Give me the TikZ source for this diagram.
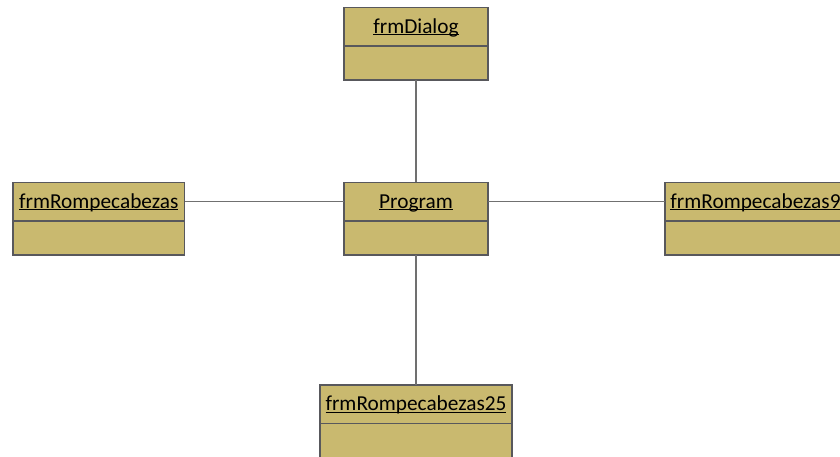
\documentclass[tikz,border=0pt]{standalone}
\usepackage{fontspec}
\setmainfont{Carlito}
\definecolor{classfill}{RGB}{201,185,111}
\definecolor{classline}{RGB}{88,88,92}
\definecolor{linkline}{RGB}{112,112,112}
% underline that runs through the descenders, as in UML object names
\newsavebox\ulbox
\newcommand{\uname}[1]{\sbox\ulbox{#1}\rlap{\rule[-2.2pt]{\wd\ulbox}{1.1pt}}\usebox\ulbox}
\tikzset{
  classhead/.style={draw=classline, fill=classfill, line width=1.4pt,
    minimum height=38.5pt, inner sep=0pt, outer sep=0pt, text height=18pt, text depth=5pt,
    anchor=north west, font=\fontsize{21.3}{25}\selectfont},
  classbody/.style={draw=classline, fill=classfill, line width=1.4pt,
    minimum height=34pt, inner sep=0pt, outer sep=0pt, anchor=north west},
  link/.style={draw=linkline, line width=1.4pt}
}
\begin{document}
\begin{tikzpicture}[x=1pt, y=-1pt]
  \useasboundingbox (0,0) rectangle (840,457);
  \clip (0,0) rectangle (840,457);

  % class boxes: name compartment on top, empty compartment below
  \node[classhead, minimum width=144pt]   (dlg)  at (344,7.5)   {\uname{frmDialog}};
  \node[classbody, minimum width=144pt]   (dlgB) at (dlg.south west) {};

  \node[classhead, minimum width=171.5pt] (rp)   at (13,182.5)  {\uname{frmRompecabezas}};
  \node[classbody, minimum width=171.5pt] (rpB)  at (rp.south west) {};

  \node[classhead, minimum width=144pt]   (prog) at (344,182.5) {\uname{Program}};
  \node[classbody, minimum width=144pt]   (progB) at (prog.south west) {};

  \node[classhead, minimum width=181pt]   (rp9)  at (665,182.5) {\uname{frmRompecabezas9}};
  \node[classbody, minimum width=181pt]   (rp9B) at (rp9.south west) {};

  \node[classhead, minimum width=192pt]   (rp25) at (320,385)   {\uname{frmRompecabezas25}};
  \node[classbody, minimum width=192pt, minimum height=40pt] (rp25B) at (rp25.south west) {};

  % associations
  \draw[link] (dlgB.south) -- (prog.north);
  \draw[link] (rp.east) -- (prog.west);
  \draw[link] (prog.east) -- (rp9.west);
  \draw[link] (progB.south) -- (rp25.north);
\end{tikzpicture}
\end{document}
